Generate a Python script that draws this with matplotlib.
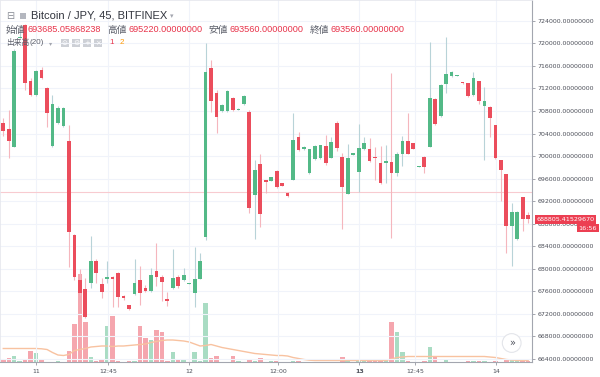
import matplotlib
matplotlib.use('Agg')
import matplotlib.pyplot as plt
from matplotlib.patches import Rectangle
import numpy as np

plt.rcParams['font.family'] = ['Liberation Sans', 'Noto Sans CJK JP', 'DejaVu Sans']

# BTC/JPY, 45 minute candles (Bitfinex)
opens = [705800, 704750, 701550, 720870, 723300, 713380, 710840, 715360, 712080, 701790,
         705920, 705250, 702730, 686000, 678000, 676350, 677520, 681370, 677290, 678230,
         678590, 679300, 675160, 673560, 675520, 678000, 676530, 676100, 679600, 678590,
         674710, 676580, 678480, 678000, 677350, 675750, 678230, 685580, 715580, 711140,
         708000, 708000, 710250, 708180, 709240, 707870, 693090, 698590, 695750, 695630,
         697350, 695170, 693500, 695750, 703330, 701200, 696940, 699390, 699570, 701790,
         699710, 705810, 699890, 693270, 700300, 697220, 701200, 701200, 699830, 698710,
         698770, 699000, 697000, 700370, 702670, 702270, 698110, 699780, 701660, 710070,
         707110, 712790, 714210, 714200, 713150, 712910, 710840, 713320, 708830, 708760,
         705510, 699300, 696820, 687500, 685230, 692730, 689540]
highs = [706700, 708180, 719000, 722200, 723500, 713860, 715280, 715720, 712310, 710840,
         708800, 708700, 705510, 686200, 679900, 678300, 685810, 681730, 678410, 681430,
         678710, 679500, 675300, 673600, 681680, 680490, 677100, 680080, 684570, 678890,
         675870, 683450, 678890, 680080, 677450, 683770, 682790, 720010, 717050, 711730,
         709200, 711800, 710570, 708450, 710800, 708180, 699300, 700450, 695800, 696300,
         697530, 695200, 693550, 707640, 704270, 701750, 701300, 701900, 702000, 703650,
         703440, 706230, 700490, 702140, 700400, 705690, 703380, 703150, 701660, 701790,
         701960, 714800, 700720, 703560, 707590, 702350, 698300, 700010, 720300, 710300,
         712790, 721190, 715100, 714350, 713200, 713000, 714970, 713400, 712200, 708800,
         705600, 699350, 696900, 691580, 690200, 692800, 690150]
lows = [703560, 699700, 701550, 720870, 711730, 710660, 710700, 713590, 705100, 701600,
        705690, 705100, 680360, 678000, 675300, 671250, 676530, 677410, 674860, 677410,
        673260, 673150, 674500, 672700, 675340, 673560, 675870, 675900, 676880, 674330,
        673390, 676490, 676580, 677820, 677300, 673260, 678100, 685100, 707870, 704040,
        707900, 707900, 707910, 708100, 709100, 689950, 685230, 687350, 693500, 695500,
        694330, 694700, 692800, 695700, 700900, 701100, 696800, 699300, 699400, 698410,
        699600, 700900, 687000, 693180, 700250, 693670, 701100, 698950, 695750, 695040,
        695220, 685400, 696460, 698240, 700300, 701250, 698050, 696940, 701550, 705510,
        707000, 711250, 714100, 714150, 712850, 710480, 710700, 709240, 699300, 703380,
        699470, 692080, 682850, 680430, 685100, 686700, 688120]
closes = [704500, 702730, 718590, 721220, 713020, 710840, 715150, 713770, 707590, 709190,
          708580, 708580, 686570, 678500, 675640, 671380, 681430, 679190, 675920, 678590,
          678230, 674980, 674720, 672800, 677520, 675690, 676100, 678830, 678590, 677560,
          674330, 678440, 676880, 678830, 677400, 678230, 681430, 714970, 709830, 706990,
          709070, 711600, 708180, 708400, 710660, 690730, 697530, 689630, 695400, 696230,
          694510, 694740, 692860, 702850, 701020, 701660, 701200, 701790, 701910, 698710,
          702550, 701380, 694560, 699600, 700370, 701380, 702270, 699180, 699660, 695170,
          699040, 697000, 700370, 702670, 700370, 701340, 698240, 698000, 710250, 705640,
          712610, 714570, 714970, 714300, 712880, 710710, 713770, 709830, 709830, 706700,
          699600, 697530, 687500, 690150, 690150, 688770, 688805.4152967]
volumes = [32, 38, 65, 15, 32, 115, 88, 28, 5, 5,
           10, 5, 108, 380, 880, 400, 48, 15, 32, 365,
           460, 10, 5, 15, 10, 365, 240, 220, 320, 305,
           10, 105, 25, 32, 5, 105, 10, 590, 40, 65,
           5, 5, 65, 10, 5, 22, 15, 38, 5, 10,
           10, 5, 5, 10, 10, 5, 5, 5, 5, 5,
           5, 5, 48, 10, 5, 15, 22, 10, 10, 10,
           32, 400, 300, 100, 15, 5, 5, 10, 155, 55,
           5, 32, 5, 5, 5, 15, 10, 10, 15, 5,
           10, 5, 22, 22, 10, 10, 15]
volume_ma = [135, 135, 135, 135, 135, 135, 135, 132, 125, 95,
             70, 65, 75, 115, 125, 135, 150, 155, 160, 160,
             155, 160, 160, 165, 170, 175, 180, 195, 205, 215,
             220, 220, 215, 210, 200, 180, 160, 165, 175, 160,
             145, 135, 125, 115, 105, 95, 85, 80, 75, 70,
             65, 65, 60, 45, 35, 25, 18, 15, 15, 15,
             15, 15, 15, 15, 15, 15, 15, 15, 15, 15,
             15, 30, 45, 50, 55, 55, 55, 55, 55, 55,
             55, 55, 55, 55, 55, 55, 55, 55, 55, 50,
             45, 35, 25, 20, 15, 15, 15]

time_ticks = [6, 19.2, 34, 50.2, 65.1, 75.3, 90.1]
time_labels = ['11', '12:45', '12', '12:00', '13', '12:45', '14']
price_ticks = list(range(664000, 728000, 4000))
cursor_price = 693560
last_time = '16:56'
legend_names = ['始値', '高値', '安値', '終値']
legend_values = [693685.05868238, 695220.0, 693560.0, 693560.0]

UP, DOWN = '#53b987', '#eb4d5c'
W, H = 600, 377


def fxy(px, py):
    return px / W, 1 - py / H


o, h, l, c = (np.array(a, dtype=float) for a in (opens, highs, lows, closes))
x = np.arange(len(o))
up = c >= o

fig = plt.figure(figsize=(6, 3.77), dpi=100)
ax = fig.add_axes([0, 15 / H, 532 / W, 362 / H])
vax = ax.twinx()

# volume pane (behind the candles)
vcol = np.where(up, '#a9dcc3', '#f5a6ae')
vax.bar(x, volumes, width=0.82, color=vcol, linewidth=0)
vax.plot(x, volume_ma, color='#f8c2a0', lw=1.0)
vax.set_ylim(0, 3620)
vax.set_yticks([])
for sp in vax.spines.values():
    sp.set_visible(False)
ax.set_zorder(vax.get_zorder() + 1)
ax.patch.set_visible(False)

# candles
min_body = 250
mid = (o + c) / 2
body_h = np.maximum(np.abs(c - o), min_body)
body_lo = mid - body_h / 2
ax.vlines(x, l, h, colors=np.where(up, '#b8d3d8', '#f5b6bd'), lw=0.8, zorder=2)
ax.bar(x, body_h, bottom=body_lo, width=0.68, color=np.where(up, UP, DOWN), linewidth=0, zorder=3)

ax.axhline(cursor_price, color='#f8cbd0', lw=0.8, zorder=1)

ax.set_xlim(-0.6, 96.7)
ax.set_ylim(663445, 727700)
ax.grid(True, color='#f0f3fa', lw=0.8, zorder=0)
ax.set_axisbelow(True)

ax.yaxis.tick_right()
ax.set_yticks(price_ticks)
ax.set_yticklabels([f'{v:.8f}' for v in price_ticks])
ax.set_xticks(time_ticks)
ax.set_xticklabels(time_labels)
ax.tick_params(axis='both', length=2.5, width=0.6, color='#9598a1', labelsize=4.5,
               labelcolor='#4c4f59')
ax.tick_params(axis='y', pad=1.2)
ax.tick_params(axis='x', pad=2.5)
for lbl in ax.get_yticklabels() + ax.get_xticklabels():
    lbl.set_fontfamily('DejaVu Sans')
ax.get_xticklabels()[4].set_fontweight('bold')

for side in ('right', 'bottom'):
    ax.spines[side].set_color('#a3a6af')
    ax.spines[side].set_linewidth(0.8)
for side in ('left', 'top'):
    ax.spines[side].set_color('#e6e8ee')
    ax.spines[side].set_linewidth(0.6)

# last price tag on the price scale
ax.annotate(f'{closes[-1]:.8f}', xy=(1, closes[-1]), xycoords=('axes fraction', 'data'),
            xytext=(3.2, 0), textcoords='offset points', ha='left', va='center',
            fontsize=4.6, color='white', family='DejaVu Sans', annotation_clip=False,
            bbox=dict(boxstyle='square,pad=0.3', fc='#ec3f52', ec='none'))
ax.annotate(last_time, xy=(1, closes[-1]), xycoords=('axes fraction', 'data'),
            xytext=(46.8, -6.4), textcoords='offset points', ha='right', va='center',
            fontsize=4.6, color='white', family='DejaVu Sans', annotation_clip=False,
            bbox=dict(boxstyle='square,pad=0.3', fc='#ec3f52', ec='none'))

# legend rows
fig.text(*fxy(6, 16), '⊟', fontsize=7, color='#8a8d96', va='center', family='DejaVu Sans')
fig.add_artist(Rectangle(fxy(20, 18.5), 6 / W, 6 / H, transform=fig.transFigure,
                         fc='#b4b7bf', ec='none'))
fig.text(*fxy(31, 16), 'Bitcoin / JPY, 45, BITFINEX', fontsize=8, color='#33363f', va='center')
fig.text(*fxy(170, 16.5), '▾', fontsize=5, color='#a3a6af', va='center', family='DejaVu Sans')

name_x = [6, 107.5, 208.5, 309.5]
for nx, name, val in zip(name_x, legend_names, legend_values):
    fig.text(*fxy(nx, 29.5), name, fontsize=7, color='#5d606b', va='center',
             family='Noto Sans CJK JP')
    fig.text(*fxy(nx + 21, 29.5), f'{val:.8f}', fontsize=6.6, color='#e8334a', va='center')

fig.text(*fxy(6, 43), '出来高', fontsize=5.6, color='#5d606b', va='center', family='Noto Sans CJK JP')
fig.text(*fxy(30, 43), '(20)', fontsize=5.8, color='#5d606b', va='center')
fig.text(*fxy(49, 43.5), '▾', fontsize=4.5, color='#a3a6af', va='center', family='DejaVu Sans')
for bx, glyph in zip([61, 72.3, 83.3, 94.3], ['⊙', '⚙', '+', '×']):
    fig.add_artist(Rectangle(fxy(bx, 46.5), 7.5 / W, 7.5 / H, transform=fig.transFigure,
                             fc='#cdd0d6', ec='none'))
    fig.text(*fxy(bx + 3.75, 42.8), glyph, fontsize=5, color='white', ha='center', va='center',
             family='DejaVu Sans')
fig.text(*fxy(109, 43), '1', fontsize=5.8, color='#e8334a', va='center')
fig.text(*fxy(120, 43), '2', fontsize=5.8, color='#ff9800', va='center')

# scroll-to-realtime button
fig.text(*fxy(511.7, 343), '»', fontsize=7, color='#50535e', ha='center', va='center',
         family='DejaVu Sans',
         bbox=dict(boxstyle='circle,pad=0.45', fc='white', ec='#e3e5ea', lw=0.8))

fig.savefig('out.png', dpi=100)
